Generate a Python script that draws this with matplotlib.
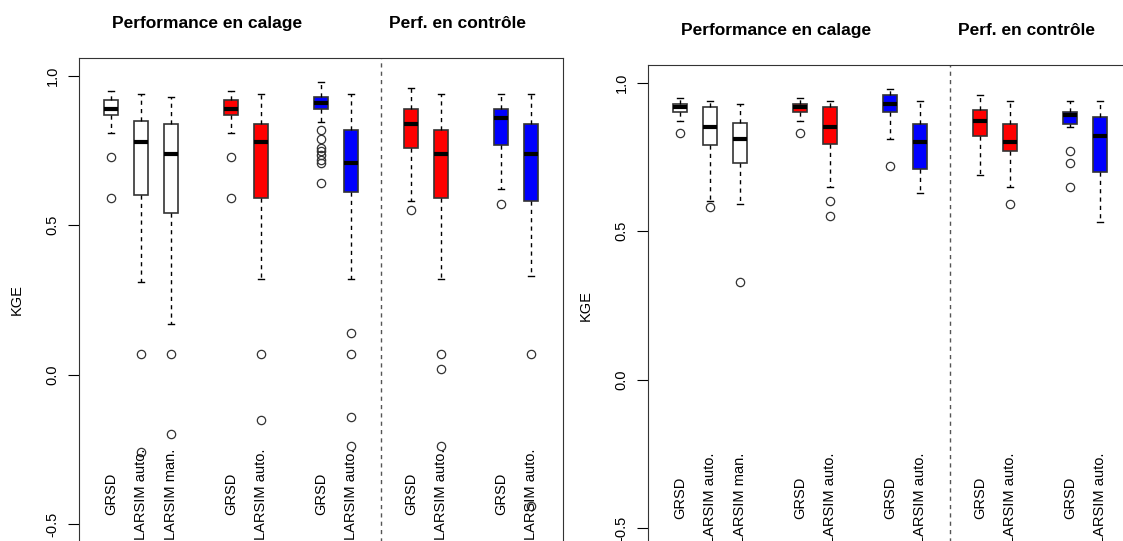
import matplotlib
matplotlib.use('Agg')
import matplotlib.pyplot as plt

plt.rcParams['font.family'] = ['Liberation Sans', 'DejaVu Sans']

# boxes, left to right (same layout in both panels)
labels = ['GRSD', 'LARSIM auto.', 'LARSIM man.', 'GRSD', 'LARSIM auto.', 'GRSD', 'LARSIM auto.',
          'GRSD', 'LARSIM auto.', 'GRSD', 'LARSIM auto.']
colors = ['white', 'white', 'white', 'red', 'red', 'blue', 'blue', 'red', 'red', 'blue', 'blue']
titles = ['Performance en calage', 'Perf. en contrôle']

# left panel: KGE box statistics
lo1 = [0.81, 0.31, 0.17, 0.81, 0.32, 0.845, 0.32, 0.58, 0.32, 0.62, 0.33]
q1_1 = [0.87, 0.60, 0.54, 0.87, 0.59, 0.89, 0.61, 0.76, 0.59, 0.77, 0.58]
med1 = [0.89, 0.78, 0.74, 0.89, 0.78, 0.91, 0.71, 0.84, 0.74, 0.86, 0.74]
q3_1 = [0.92, 0.85, 0.84, 0.92, 0.84, 0.93, 0.82, 0.89, 0.82, 0.89, 0.84]
hi1 = [0.95, 0.94, 0.93, 0.95, 0.94, 0.98, 0.94, 0.96, 0.94, 0.94, 0.94]
out1 = [[0.73, 0.59], [0.07, -0.26], [0.07, -0.20], [0.73, 0.59], [0.07, -0.15],
        [0.82, 0.79, 0.76, 0.75, 0.735, 0.72, 0.71, 0.64], [0.14, 0.07, -0.14, -0.24],
        [0.55], [0.07, 0.02, -0.24], [0.57], [0.07, -0.44]]

# right panel
lo2 = [0.87, 0.60, 0.59, 0.87, 0.65, 0.81, 0.63, 0.69, 0.65, 0.85, 0.53]
q1_2 = [0.90, 0.79, 0.73, 0.90, 0.795, 0.90, 0.71, 0.82, 0.77, 0.86, 0.70]
med2 = [0.92, 0.85, 0.81, 0.92, 0.85, 0.93, 0.80, 0.87, 0.80, 0.89, 0.82]
q3_2 = [0.93, 0.92, 0.865, 0.93, 0.92, 0.96, 0.86, 0.91, 0.86, 0.90, 0.885]
hi2 = [0.95, 0.94, 0.93, 0.95, 0.94, 0.98, 0.94, 0.96, 0.94, 0.94, 0.94]
out2 = [[0.83], [0.58], [0.33], [0.83], [0.60, 0.55], [0.72], [], [], [0.59], [0.77, 0.73, 0.65], []]

positions = [1, 2, 3, 5, 6, 8, 9, 11, 12, 14, 15]
sep = 10


def panel(ax, lo, q1, med, q3, hi, out):
    stats = []
    for i in range(len(labels)):
        stats.append(dict(whislo=lo[i], q1=q1[i], med=med[i], q3=q3[i], whishi=hi[i], fliers=out[i]))
    bp = ax.bxp(stats, positions=positions, widths=0.45, capwidths=0.22, patch_artist=True,
                boxprops=dict(edgecolor='#333333', linewidth=1.2),
                medianprops=dict(color='black', linewidth=3, solid_capstyle='butt'),
                whiskerprops=dict(color='black', linestyle=(0, (3, 3)), linewidth=1),
                capprops=dict(color='black', linewidth=1),
                flierprops=dict(marker='o', markerfacecolor='none', markeredgecolor='#333333',
                                markersize=6, markeredgewidth=0.9))
    for patch, c in zip(bp['boxes'], colors):
        patch.set_facecolor(c)
    ax.axvline(sep, color='#555555', linestyle=(0, (3, 3)), linewidth=1)
    for p, lab in zip(positions, labels):
        ax.text(p, -0.4, lab, rotation=90, ha='center', va='center', fontsize=10.5)
    ax.set_xlim(-0.07, 16.07)
    ax.set_ylim(-0.56, 1.06)
    ax.set_yticks([-0.5, 0.0, 0.5, 1.0])
    ax.set_yticklabels(['-0.5', '0.0', '0.5', '1.0'])
    ax.tick_params(axis='y', labelrotation=90, length=8, pad=6, labelsize=10.5)
    ax.tick_params(axis='x', bottom=False, labelbottom=False)
    for lab in ax.get_yticklabels():
        lab.set_va('center')
    ax.spines['bottom'].set_visible(False)
    for s in ['left', 'top', 'right']:
        ax.spines[s].set_color('#333333')
    ax.text(-62 / 484, 0.5, 'KGE', transform=ax.transAxes, rotation=90, ha='center', va='center',
            fontsize=10.5)
    for x, t in zip([4.2, 12.55], titles):
        ax.annotate(t, xy=(x, 1), xycoords=('data', 'axes fraction'), xytext=(0, 25),
                    textcoords='offset points', ha='center', va='center', fontsize=12.5,
                    fontweight='bold')


fig = plt.figure(figsize=(11.23, 5.41), dpi=100)
ax1 = fig.add_axes([79 / 1123, -1 / 541, 484 / 1123, 484 / 541])
ax2 = fig.add_axes([648 / 1123, -4.7 / 541, 484 / 1123, 480.7 / 541])
panel(ax1, lo1, q1_1, med1, q3_1, hi1, out1)
panel(ax2, lo2, q1_2, med2, q3_2, hi2, out2)
fig.savefig('out.png', dpi=100)
